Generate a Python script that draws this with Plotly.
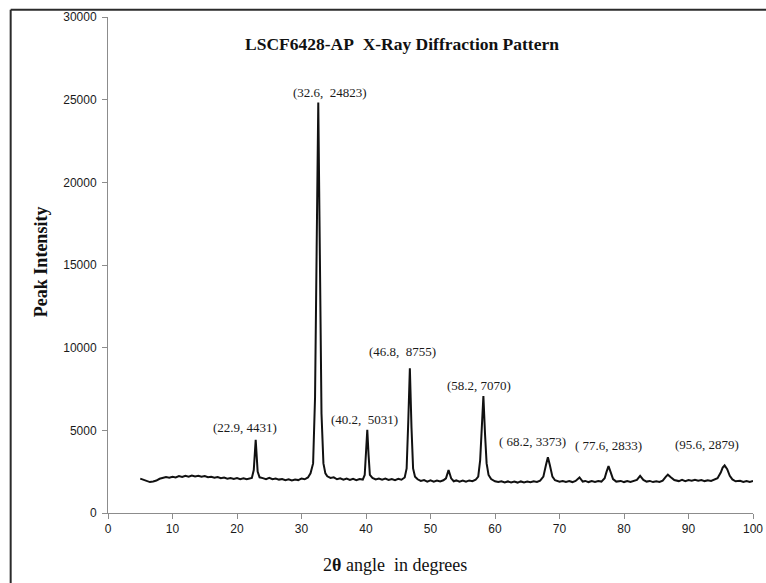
import plotly.graph_objects as go

# Diffraction scan: 2-theta (degrees) and measured intensity (counts)
two_theta = [
    5.0, 5.5, 6.0, 6.5, 7.0, 7.5, 8.0, 8.5, 9.0, 9.5,
    10.0, 10.5, 11.0, 11.5, 12.0, 12.5, 13.0, 13.5, 14.0, 14.5,
    15.0, 15.5, 16.0, 16.5, 17.0, 17.5, 18.0, 18.5, 19.0, 19.5,
    20.0, 20.5, 21.0, 21.5, 22.0, 22.3, 22.6, 22.9, 23.2, 23.5,
    24.0, 24.5, 25.0, 25.5, 26.0, 26.5, 27.0, 27.5, 28.0, 28.5,
    29.0, 29.5, 30.0, 30.5, 31.0, 31.4, 31.8, 32.1, 32.35, 32.6,
    32.85, 33.1, 33.4, 33.7, 34.0, 34.5, 35.0, 35.5, 36.0, 36.5,
    37.0, 37.5, 38.0, 38.5, 39.0, 39.5, 39.8, 40.0, 40.2, 40.4,
    40.6, 41.0, 41.5, 42.0, 42.5, 43.0, 43.5, 44.0, 44.5, 45.0,
    45.5, 46.0, 46.3, 46.55, 46.8, 47.05, 47.3, 47.6, 48.0, 48.5,
    49.0, 49.5, 50.0, 50.5, 51.0, 51.5, 52.0, 52.4, 52.8, 53.2,
    53.6, 54.0, 54.5, 55.0, 55.5, 56.0, 56.5, 57.0, 57.4, 57.7,
    57.95, 58.2, 58.45, 58.7, 59.0, 59.4, 60.0, 60.5, 61.0, 61.5,
    62.0, 62.5, 63.0, 63.5, 64.0, 64.5, 65.0, 65.5, 66.0, 66.5,
    67.0, 67.5, 67.9, 68.2, 68.5, 68.9, 69.3, 70.0, 70.5, 71.0,
    71.5, 72.0, 72.5, 73.1, 73.6, 74.0, 74.5, 75.0, 75.5, 76.0,
    76.5, 77.0, 77.3, 77.6, 77.9, 78.3, 78.8, 79.5, 80.0, 80.5,
    81.0, 81.5, 82.0, 82.5, 83.0, 83.5, 84.0, 84.5, 85.0, 85.5,
    86.0, 86.5, 86.8, 87.3, 87.8, 88.5, 89.0, 89.5, 90.0, 90.5,
    91.0, 91.5, 92.0, 92.5, 93.0, 93.5, 94.0, 94.5, 95.0, 95.3,
    95.6, 96.0, 96.4, 96.8, 97.3, 98.0, 98.5, 99.0, 99.5, 100.0,
]
intensity = [
    2080, 2010, 1970, 1870, 1910, 1960, 2070, 2110, 2170, 2140,
    2190, 2150, 2230, 2180, 2250, 2200, 2270, 2210, 2250, 2190,
    2230, 2160, 2190, 2130, 2170, 2100, 2140, 2080, 2120, 2060,
    2110, 2050, 2100, 2040, 2090, 2120, 2600, 4431, 2500, 2160,
    2110, 2050, 2130, 2040, 2080, 2020, 2060, 1990, 2040, 1970,
    2030, 1990, 2090, 2040, 2150, 2400, 3000, 7000, 16000, 24823,
    15500, 6000, 3000, 2400, 2220, 2120, 2160, 2040, 2100, 2010,
    2080, 2000, 2070, 1990, 2060, 2020, 2300, 3600, 5031, 3500,
    2300, 2120, 2030, 2090, 2020, 2080, 2000, 2060, 1990, 2070,
    2010, 2150, 2700, 5500, 8755, 5200, 2700, 2200, 2040, 1940,
    1990, 1900, 1970, 1890, 1960, 1910, 1980, 2100, 2600, 2100,
    1920, 1970, 1900, 1960, 1890, 1970, 1920, 2010, 2200, 3200,
    5000, 7070, 4800, 3000, 2300, 2050, 1920, 1870, 1920, 1850,
    1910, 1850, 1900, 1840, 1910, 1850, 1900, 1860, 1920, 1880,
    1960, 2200, 2900, 3373, 2900, 2200, 1980, 1890, 1940, 1880,
    1930, 1870, 1940, 2150, 1900, 1940, 1870, 1930, 1880, 1940,
    1900, 2100, 2500, 2833, 2500, 2050, 1900, 1940, 1870, 1930,
    1880, 1950, 2000, 2250, 2000, 1900, 1940, 1870, 1920, 1880,
    1960, 2200, 2320, 2150, 1990, 1930, 2000, 1930, 1990, 1950,
    2010, 1950, 1990, 1930, 1980, 1940, 2000, 2100, 2450, 2750,
    2879, 2650, 2250, 2030, 1920, 1950, 1880, 1940, 1880, 1930,
]
assert len(two_theta) == len(intensity)

# Labelled reflections
peak_angle = [22.9, 32.6, 40.2, 46.8, 58.2, 68.2, 77.6, 95.6]
peak_intensity = [4431, 24823, 5031, 8755, 7070, 3373, 2833, 2879]
label_lead = ["", "", "", "", "", " ", " ", ""]
label_gap = [" ", "  ", "  ", "  ", " ", " ", " ", " "]
label_dx = [-11, 12, -3, -7, -4, -15, 0, -18]
label_dy = [12, 10, 10, 17, 11, 16, 21, 21]

x_ticks = list(range(0, 101, 10))
y_ticks = list(range(0, 30001, 5000))

fig = go.Figure()
fig.add_trace(go.Scatter(
    x=two_theta, y=intensity, mode="lines",
    line=dict(color="#111111", width=2.0, shape="linear"),
    hoverinfo="skip", showlegend=False,
))

label_font = dict(family="Liberation Serif, Times New Roman, serif", size=13, color="#1a1a1a")
for a, v, lead, gap, dx, dy in zip(peak_angle, peak_intensity, label_lead, label_gap, label_dx, label_dy):
    text = f"({lead}{a},{gap}{v})".replace(" ", "\u00a0")
    fig.add_annotation(x=a, y=v, xref="x", yref="y", text=text, showarrow=False,
                       xshift=dx, yshift=dy, font=label_font,
                       xanchor="center", yanchor="middle")

axis_common = dict(
    showgrid=False, zeroline=False, showline=True, linecolor="#8c8c8c", linewidth=1,
    ticks="outside", ticklen=5, tickcolor="#8c8c8c", tickwidth=1, automargin=False,
    tickfont=dict(family="Liberation Sans, Arial, sans-serif", size=12, color="#1a1a1a"),
)
fig.update_xaxes(range=[0, 100], tickvals=x_ticks, ticktext=[str(t) for t in x_ticks], **axis_common)
fig.update_yaxes(range=[0, 30000], tickvals=y_ticks, ticktext=[str(t) for t in y_ticks],
                 ticklabelstandoff=3, **axis_common)

serif = "Liberation Serif, Times New Roman, serif"
fig.add_annotation(text="<b>LSCF6428-AP  X-Ray Diffraction Pattern</b>".replace("  ", "\u00a0\u00a0"),
                   xref="paper", yref="paper", x=0.456, y=0.946, showarrow=False,
                   font=dict(family=serif, size=17.5, color="#111111"),
                   xanchor="center", yanchor="middle")
fig.add_annotation(text="<b>Peak Intensity</b>", textangle=-90,
                   xref="paper", yref="paper", x=-0.1045, y=0.507, showarrow=False,
                   font=dict(family=serif, size=18, color="#111111"),
                   xanchor="center", yanchor="middle")
fig.add_annotation(text="2<b>θ</b> angle\u00a0\u00a0in degrees",
                   xref="paper", yref="paper", x=0.445, y=-0.104, showarrow=False,
                   font=dict(family=serif, size=18, color="#111111"),
                   xanchor="center", yanchor="middle")

# Frame lines along the top and left edge of the page
fig.add_shape(type="line", xref="paper", yref="paper", x0=-0.1509, x1=1.05, y0=1.0147, y1=1.0147,
              line=dict(color="#2b2b2b", width=2))
fig.add_shape(type="line", xref="paper", yref="paper", x0=-0.1509, x1=-0.1509, y0=1.0147, y1=-0.2,
              line=dict(color="#2b2b2b", width=2))

fig.update_layout(
    width=766, height=583,
    margin=dict(l=107.5, r=12.5, t=17, b=70, autoexpand=False),
    paper_bgcolor="white", plot_bgcolor="white",
    showlegend=False,
)

fig.write_html("out.html")
